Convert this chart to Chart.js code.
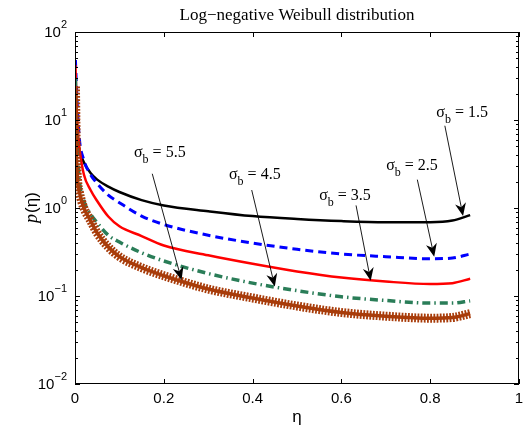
<!DOCTYPE html>
<html lang="en">
<head>
  <meta charset="UTF-8">
  <title>Log-negative Weibull distribution</title>
  <script src="https://cdn.jsdelivr.net/npm/chart.js@4.4.1/dist/chart.umd.min.js"></script>
  <style>
    html, body {
      margin: 0;
      padding: 0;
      background: #fff;
    }

    .chart-box {
      position: relative;
      width: 524px;
      height: 435px;
    }
  </style>
</head>
<body>
  <div class="chart-box">
    <canvas id="weibull-chart"></canvas>
  </div>
  <script>
    // eta samples (x) and read-off densities for each sigma_b
    const eta = [0.001, 0.003, 0.006, 0.01, 0.02, 0.035, 0.05, 0.075, 0.1, 0.15, 0.2, 0.3, 0.4, 0.5, 0.6, 0.7, 0.8, 0.85, 0.89];
    const sigma15 = [16, 9, 6, 4.5, 3.3, 2.5, 2.1, 1.75, 1.52, 1.23, 1.07, 0.92, 0.81, 0.75, 0.71, 0.69, 0.69, 0.72, 0.83];
    const sigma25 = [48, 26, 12, 6, 3.5, 2.4, 1.9, 1.4, 1.15, 0.81, 0.65, 0.49, 0.40, 0.34, 0.30, 0.28, 0.265, 0.27, 0.30];
    const sigma35 = [42, 18, 8, 4.8, 2.4, 1.6, 1.2, 0.8, 0.62, 0.48, 0.375, 0.29, 0.232, 0.19, 0.162, 0.146, 0.137, 0.14, 0.157];
    const sigma45 = [30, 9, 3.8, 2.0, 1.2, 0.85, 0.68, 0.49, 0.41, 0.31, 0.25, 0.18, 0.14, 0.115, 0.098, 0.089, 0.083, 0.083, 0.088];
    const sigma55 = [24, 4.5, 2.0, 1.5, 1.0, 0.72, 0.52, 0.36, 0.28, 0.21, 0.17, 0.12, 0.095, 0.077, 0.065, 0.059, 0.056, 0.057, 0.063];

    const sigmaNames = ['1.5', '2.5', '3.5', '4.5', '5.5'];

    const xTickValues = [0, 0.2, 0.4, 0.6, 0.8, 1];
    const xTickLabels = ['0', '0.2', '0.4', '0.6', '0.8', '1'];
    const yDecades = [100, 10, 1, 0.1, 0.01];
    const yExponents = ['2', '1', '0', '\u22121', '\u22122'];

    // label centre and arrow (from -> tip), in data units
    const notes = [
      { name: sigmaNames[0], at: [0.872, 12.3], from: [0.833, 8.6], to: [0.874, 0.81] },
      { name: sigmaNames[1], at: [0.759, 3.08], from: [0.771, 2.1], to: [0.809, 0.28] },
      { name: sigmaNames[2], at: [0.608, 1.40], from: [0.633, 1.07], to: [0.666, 0.149] },
      { name: sigmaNames[3], at: [0.405, 2.43], from: [0.398, 1.6], to: [0.450, 0.128] },
      { name: sigmaNames[4], at: [0.191, 4.33], from: [0.174, 2.45], to: [0.240, 0.152] }
    ];

    const pts = (ys) => eta.map((x, i) => ({ x: x, y: ys[i] }));

    const sansFont = "'Liberation Sans', Arial, sans-serif";
    const serifFont = "'Liberation Serif', 'Times New Roman', serif";

    const framePlugin = {
      id: 'frame',
      afterDatasetsDraw(chart) {
        const ctx = chart.ctx;
        const a = chart.chartArea;
        const xs = chart.scales.x;
        const ys = chart.scales.y;
        ctx.save();

        // box
        ctx.strokeStyle = '#000';
        ctx.lineWidth = 1;
        ctx.strokeRect(a.left + 0.5, a.top + 0.5, a.right - a.left - 1, a.bottom - a.top - 1);

        // x ticks, inside, top and bottom
        ctx.beginPath();
        xTickValues.forEach(v => {
          const px = Math.round(xs.getPixelForValue(v)) + 0.5;
          ctx.moveTo(px, a.bottom);
          ctx.lineTo(px, a.bottom - 5);
          ctx.moveTo(px, a.top);
          ctx.lineTo(px, a.top + 5);
        });

        // y ticks, decades and minor
        yDecades.forEach(d => {
          for (let k = 1; k <= 9; k++) {
            const v = d * k;
            if (v > 100.0001) continue;
            const len = k === 1 ? 5 : 3;
            const py = Math.round(ys.getPixelForValue(v)) + 0.5;
            ctx.moveTo(a.left, py);
            ctx.lineTo(a.left + len, py);
            ctx.moveTo(a.right, py);
            ctx.lineTo(a.right - len, py);
          }
        });
        ctx.stroke();

        // x tick labels
        ctx.fillStyle = '#000';
        ctx.font = '15px ' + sansFont;
        ctx.textAlign = 'center';
        ctx.textBaseline = 'middle';
        xTickValues.forEach((v, i) => {
          ctx.fillText(xTickLabels[i], xs.getPixelForValue(v), a.bottom + 15);
        });

        // y tick labels with superscripts
        yDecades.forEach((d, i) => {
          const py = ys.getPixelForValue(d);
          ctx.font = '11px ' + sansFont;
          const ew = ctx.measureText(yExponents[i]).width;
          ctx.textAlign = 'left';
          const right = a.left - 8;
          ctx.fillText(yExponents[i], right - ew, py - 7);
          ctx.font = '15px ' + sansFont;
          ctx.textAlign = 'right';
          ctx.fillText('10', right - ew, py + 1);
        });

        // title
        const cx = (a.left + a.right) / 2;
        ctx.textAlign = 'center';
        ctx.textBaseline = 'alphabetic';
        ctx.font = '17px ' + serifFont;
        ctx.fillText('Log\u2212negative Weibull distribution', cx, 20);

        // x axis title
        ctx.font = '17px ' + sansFont;
        ctx.fillText('\u03b7', cx, 422);

        // y axis title
        ctx.save();
        ctx.translate(37, (a.top + a.bottom) / 2);
        ctx.rotate(-Math.PI / 2);
        ctx.font = 'italic 18px ' + serifFont;
        const pw = ctx.measureText('p').width;
        ctx.font = '17px ' + sansFont;
        const rw = ctx.measureText('(\u03b7)').width;
        ctx.textAlign = 'left';
        ctx.font = 'italic 18px ' + serifFont;
        ctx.fillText('p', -(pw + rw) / 2, 0);
        ctx.font = '17px ' + sansFont;
        ctx.fillText('(\u03b7)', -(pw + rw) / 2 + pw + 1, 0);
        ctx.restore();

        // annotations
        notes.forEach(n => {
          const fx = xs.getPixelForValue(n.from[0]);
          const fy = ys.getPixelForValue(n.from[1]);
          const tx = xs.getPixelForValue(n.to[0]);
          const ty = ys.getPixelForValue(n.to[1]);
          const ang = Math.atan2(ty - fy, tx - fx);
          const L = 13, W = 5.5;
          const bx = tx - L * Math.cos(ang), by = ty - L * Math.sin(ang);
          const nx = -Math.sin(ang), ny = Math.cos(ang);

          ctx.strokeStyle = '#000';
          ctx.lineWidth = 0.9;
          ctx.beginPath();
          ctx.moveTo(fx, fy);
          ctx.lineTo(bx + 4 * Math.cos(ang), by + 4 * Math.sin(ang));
          ctx.stroke();

          ctx.fillStyle = '#000';
          ctx.beginPath();
          ctx.moveTo(tx, ty);
          ctx.lineTo(bx + nx * W, by + ny * W);
          ctx.lineTo(bx + 4 * Math.cos(ang), by + 4 * Math.sin(ang));
          ctx.lineTo(bx - nx * W, by - ny * W);
          ctx.closePath();
          ctx.fill();

          // label: sigma, subscript b, "= x.x"
          const lx = xs.getPixelForValue(n.at[0]);
          const ly = ys.getPixelForValue(n.at[1]);
          const rest = ' = ' + n.name;
          ctx.font = '16px ' + serifFont;
          const sw = ctx.measureText('\u03c3').width;
          const restW = ctx.measureText(rest).width;
          ctx.font = '12px ' + serifFont;
          const bw = ctx.measureText('b').width;
          let x0 = lx - (sw + bw + restW) / 2;
          ctx.textAlign = 'left';
          ctx.textBaseline = 'alphabetic';
          ctx.font = '16px ' + serifFont;
          ctx.fillText('\u03c3', x0, ly + 5);
          ctx.font = '12px ' + serifFont;
          ctx.fillText('b', x0 + sw, ly + 11);
          ctx.font = '16px ' + serifFont;
          ctx.fillText(rest, x0 + sw + bw, ly + 5);
        });

        ctx.restore();
      }
    };

    const line = { pointRadius: 0, fill: false, cubicInterpolationMode: 'monotone' };

    new Chart(document.getElementById('weibull-chart'), {
      type: 'line',
      data: {
        datasets: [
          Object.assign({ label: '\u03c3b = 5.5', data: pts(sigma55), borderColor: '#a83c0a', borderWidth: 3.5 }, line),
          Object.assign({ label: '\u03c3b = 5.5 markers', data: pts(sigma55), borderColor: '#a83c0a', borderWidth: 9, borderDash: [1.8, 1.4] }, line),
          Object.assign({ label: '\u03c3b = 4.5', data: pts(sigma45), borderColor: '#2a7d58', borderWidth: 3.5, borderDash: [8, 4, 1.5, 4] }, line),
          Object.assign({ label: '\u03c3b = 3.5', data: pts(sigma35), borderColor: '#ff0000', borderWidth: 2.5 }, line),
          Object.assign({ label: '\u03c3b = 2.5', data: pts(sigma25), borderColor: '#0000ff', borderWidth: 3, borderDash: [8, 5] }, line),
          Object.assign({ label: '\u03c3b = 1.5', data: pts(sigma15), borderColor: '#000000', borderWidth: 2.5 }, line)
        ]
      },
      options: {
        responsive: true,
        maintainAspectRatio: false,
        animation: false,
        layout: { padding: { top: 32, right: 5, bottom: 0, left: 0 } },
        plugins: {
          legend: { display: false },
          title: { display: false },
          tooltip: { enabled: false }
        },
        scales: {
          x: {
            type: 'linear',
            min: 0,
            max: 1,
            grid: { display: false, drawTicks: false },
            border: { display: false },
            ticks: { display: false, stepSize: 0.2 },
            afterFit: (s) => { s.height = 51; }
          },
          y: {
            type: 'logarithmic',
            min: 0.01,
            max: 100,
            grid: { display: false, drawTicks: false },
            border: { display: false },
            ticks: { display: false },
            afterFit: (s) => { s.width = 75; }
          }
        }
      },
      plugins: [framePlugin]
    });
  </script>
</body>
</html>
